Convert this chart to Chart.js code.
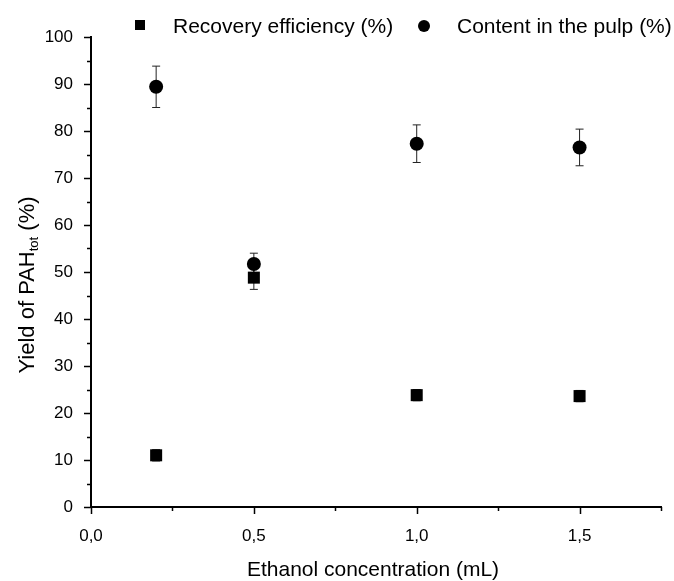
<!DOCTYPE html>
<html><head><meta charset="utf-8">
<script src="https://cdn.jsdelivr.net/npm/chart.js@4.4.0/dist/chart.umd.min.js"></script>
<style>html,body{margin:0;padding:0;background:#fff}</style>
</head><body>
<canvas id="c" width="674" height="581"></canvas>
<script>
const ethanol = [0.2, 0.5, 1.0, 1.5];
const recovery = [11.0, 48.8, 23.8, 23.6];
const recoveryErr = [1.2, 2.5, 1.2, 1.2];
const content = [89.4, 51.7, 77.3, 76.5];
const contentErr = [4.4, 2.3, 4.0, 3.9];
const seriesNames = ['Recovery efficiency (%)', 'Content in the pulp (%)'];
const xTitle = 'Ethanol concentration (mL)';
const yTitleParts = ['Yield of PAH', 'tot', ' (%)'];

const FONT = "'Liberation Sans', Arial, sans-serif";

const errorBars = {
  id: 'errorBars',
  beforeDatasetsDraw(chart) {
    const ctx = chart.ctx, xs = chart.scales.x, ys = chart.scales.y;
    const errs = [recoveryErr, contentErr];
    ctx.save();
    ctx.strokeStyle = '#222';
    ctx.lineWidth = 1;
    chart.data.datasets.forEach((ds, di) => {
      ds.data.forEach((p, i) => {
        const e = errs[di][i];
        const px = xs.getPixelForValue(p.x);
        const yt = ys.getPixelForValue(p.y + e);
        const yb = ys.getPixelForValue(p.y - e);
        ctx.beginPath();
        ctx.moveTo(px, yt); ctx.lineTo(px, yb);
        ctx.moveTo(px - 4, yt); ctx.lineTo(px + 4, yt);
        ctx.moveTo(px - 4, yb); ctx.lineTo(px + 4, yb);
        ctx.stroke();
      });
    });
    ctx.restore();
  }
};

const decorations = {
  id: 'decorations',
  afterDraw(chart) {
    const ctx = chart.ctx, xs = chart.scales.x, ys = chart.scales.y;
    const area = chart.chartArea;
    ctx.save();
    ctx.strokeStyle = '#000';
    ctx.lineWidth = 1.5;
    ys.ticks.forEach(t => {
      const py = Math.round(ys.getPixelForValue(t.value)) + 0.5;
      const major = Math.abs(t.value % 10) < 1e-9;
      const len = major ? 7 : 4;
      ctx.beginPath(); ctx.moveTo(area.left - len, py); ctx.lineTo(area.left, py); ctx.stroke();
    });
    xs.ticks.forEach(t => {
      const px = Math.round(xs.getPixelForValue(t.value)) + 0.5;
      const major = Math.abs(t.value * 2 - Math.round(t.value * 2)) < 1e-9;
      const len = major ? 7 : 4;
      ctx.beginPath(); ctx.moveTo(px, area.bottom); ctx.lineTo(px, area.bottom + len); ctx.stroke();
    });
    // legend
    ctx.fillStyle = '#000';
    ctx.fillRect(135, 20, 10, 10);
    ctx.beginPath(); ctx.arc(424, 26, 6, 0, Math.PI * 2); ctx.fill();
    ctx.font = '21px ' + FONT;
    ctx.textBaseline = 'alphabetic';
    ctx.textAlign = 'left';
    ctx.fillText(seriesNames[0], 173, 33);
    ctx.fillText(seriesNames[1], 457, 33);
    // x title
    ctx.textAlign = 'center';
    ctx.fillText(xTitle, 373, 576);
    // y title (rotated, with subscript)
    ctx.translate(26, 285);
    ctx.rotate(-Math.PI / 2);
    const fMain = '22px ' + FONT, fSub = '13px ' + FONT;
    ctx.font = fMain; const w0 = ctx.measureText(yTitleParts[0]).width;
    const w2 = ctx.measureText(yTitleParts[2]).width;
    ctx.font = fSub; const w1 = ctx.measureText(yTitleParts[1]).width;
    let x0 = -(w0 + w1 + w2) / 2;
    ctx.textAlign = 'left';
    ctx.font = fMain; ctx.fillText(yTitleParts[0], x0, 8);
    ctx.font = fSub; ctx.fillText(yTitleParts[1], x0 + w0, 12);
    ctx.font = fMain; ctx.fillText(yTitleParts[2], x0 + w0 + w1, 8);
    ctx.restore();
  }
};

new Chart(document.getElementById('c'), {
  type: 'scatter',
  data: {
    datasets: [
      {
        label: seriesNames[0],
        data: ethanol.map((x, i) => ({ x, y: recovery[i] })),
        pointStyle: 'rect',
        pointRadius: 8.5,
        pointHoverRadius: 8.5,
        backgroundColor: '#000',
        borderColor: '#000',
        borderWidth: 0
      },
      {
        label: seriesNames[1],
        data: ethanol.map((x, i) => ({ x, y: content[i] })),
        pointStyle: 'circle',
        pointRadius: 7,
        pointHoverRadius: 7,
        backgroundColor: '#000',
        borderColor: '#000',
        borderWidth: 0
      }
    ]
  },
  options: {
    responsive: false,
    animation: false,
    layout: { padding: { left: 0, right: 13, top: 37, bottom: 0 } },
    plugins: { legend: { display: false }, tooltip: { enabled: false } },
    scales: {
      x: {
        type: 'linear',
        min: 0, max: 1.75,
        afterFit(s) { s.height = 74; },
        grid: { display: false },
        border: { display: true, color: '#000', width: 2 },
        ticks: {
          stepSize: 0.25,
          autoSkip: false,
          maxRotation: 0,
          padding: 11,
          color: '#000',
          font: { family: FONT, size: 17 },
          callback: v => (Math.abs(v * 2 - Math.round(v * 2)) < 1e-9) ? v.toFixed(1).replace('.', ',') : ''
        }
      },
      y: {
        min: 0, max: 100,
        afterFit(s) { s.width = 91; },
        grid: { display: false },
        border: { display: true, color: '#000', width: 2 },
        ticks: {
          stepSize: 5,
          autoSkip: false,
          padding: 10,
          color: '#000',
          font: { family: FONT, size: 17 },
          callback: v => (v % 10 === 0) ? String(v) : ''
        }
      }
    }
  },
  plugins: [errorBars, decorations]
});
</script>
</body></html>
